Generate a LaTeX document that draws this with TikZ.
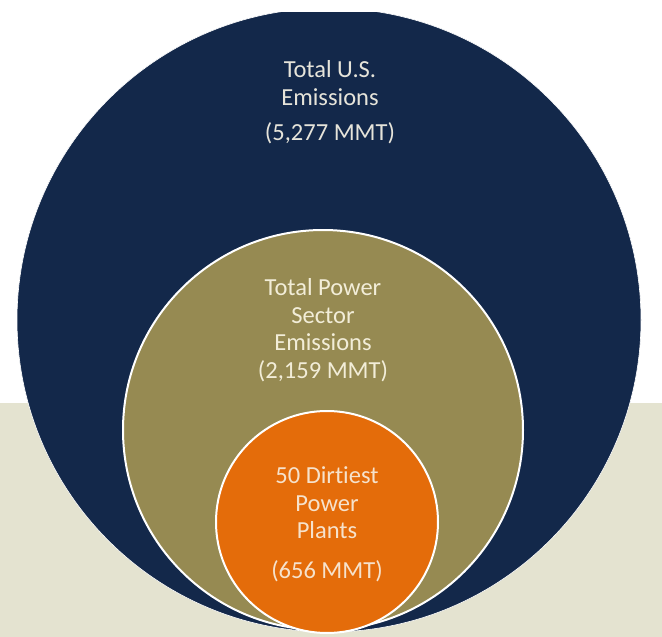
\documentclass[tikz,border=0pt]{standalone}
\usepackage{fontspec}
\setmainfont{Carlito}[Ligatures={NoCommon,NoRare,NoContextual}]
\definecolor{navy}{HTML}{13284A}
\definecolor{olive}{HTML}{968A52}
\definecolor{orng}{HTML}{E46C0A}
\definecolor{beige}{HTML}{E4E3D0}
\definecolor{txtA}{HTML}{E6E4DA}
\definecolor{txtB}{HTML}{F2EDD8}
\definecolor{txtC}{HTML}{F6E2CC}
\tikzset{
  disc/.style={circle, inner sep=0pt, outer sep=0pt},
  lbl/.style={anchor=base, inner sep=0pt, font=\fontsize{24.5}{28}\selectfont},
}
\begin{document}
\begin{tikzpicture}[x=1pt,y=-1pt]
\useasboundingbox (0,0) rectangle (662,637);
\fill[white] (0,0) rectangle (662,637);
\fill[beige] (0,403) rectangle (662,637);
\begin{scope}
\clip (0,12) rectangle (662,637);
\node[disc, fill=navy, draw=white, line width=0.6pt, minimum size=624pt] (us) at (329,320) {};
\end{scope}
\node[disc, fill=olive, draw=white, line width=2pt, minimum size=400pt] (power) at (323,430) {};
\node[disc, fill=orng, draw=white, line width=2pt, minimum size=222pt] (plants) at (327,522) {};
\node[lbl, text=txtA] (us1) at (330,77) {Total U.S.};
\node[lbl, text=txtA] (us2) at (330,105) {Emissions};
\node[lbl, text=txtA] (us3) at (330,140) {(5,277 MMT)};
\node[lbl, text=txtB] (pw1) at (323,295) {Total Power};
\node[lbl, text=txtB] (pw2) at (323,323) {Sector};
\node[lbl, text=txtB] (pw3) at (323,350) {Emissions};
\node[lbl, text=txtB] (pw4) at (323,378) {(2,159 MMT)};
\node[lbl, text=txtC] (pl1) at (327,483) {50 Dirtiest};
\node[lbl, text=txtC] (pl2) at (327,511) {Power};
\node[lbl, text=txtC] (pl3) at (327,538) {Plants};
\node[lbl, text=txtC] (pl4) at (327,578) {(656 MMT)};
\end{tikzpicture}
\end{document}
